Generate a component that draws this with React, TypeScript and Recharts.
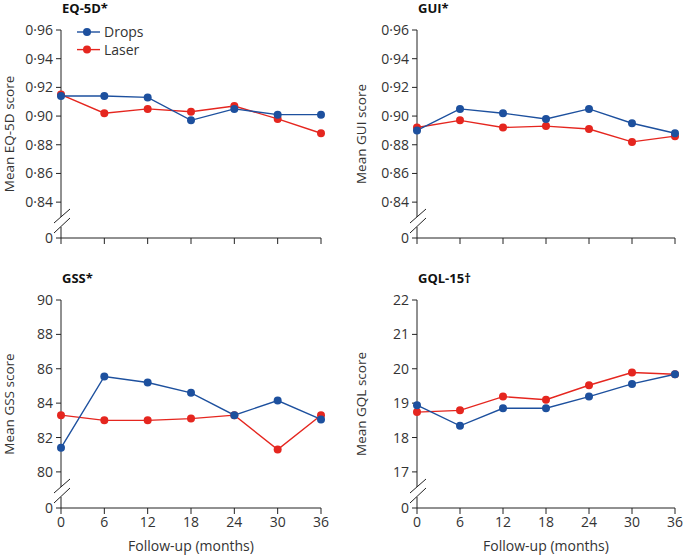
import React from 'react';
import { LineChart, Line, XAxis, YAxis, Legend } from 'recharts';

const months = [0, 6, 12, 18, 24, 30, 36];
const seriesNames = ['Drops', 'Laser'];

const eqDrops = [0.914, 0.914, 0.913, 0.897, 0.905, 0.901, 0.901];
const eqLaser = [0.915, 0.902, 0.905, 0.903, 0.907, 0.898, 0.888];
const guiDrops = [0.890, 0.905, 0.902, 0.898, 0.905, 0.895, 0.888];
const guiLaser = [0.892, 0.897, 0.892, 0.893, 0.891, 0.882, 0.886];
const gssDrops = [81.4, 85.55, 85.2, 84.6, 83.3, 84.15, 83.05];
const gssLaser = [83.3, 83.0, 83.0, 83.1, 83.3, 81.3, 83.3];
const gqlDrops = [18.94, 18.34, 18.85, 18.85, 19.19, 19.56, 19.84];
const gqlLaser = [18.74, 18.79, 19.19, 19.1, 19.52, 19.89, 19.84];

const utilityTicks = [0.84, 0.86, 0.88, 0.9, 0.92, 0.94, 0.96];
const gssTicks = [80, 82, 84, 86, 88, 90];
const gqlTicks = [17, 18, 19, 20, 21, 22];

const BLUE = '#1d509e';
const RED = '#e5261f';
const AXIS = '#222';
const TEXT = '#333';
const FONT = "'Open Sans', sans-serif";
const TICK_SIZE = 5;
const TICK_MARGIN = 3;
const FS = 14;

const fmtDec = (v: number) => v.toFixed(2).replace('.', '·');
const fmtInt = (v: number) => String(Math.round(v));

const makeYTick = (breakVal: number, fmt: (v: number) => string) => (props: any) => {
  const { x, y, payload } = props;
  const v = payload.value;
  const isBreak = Math.abs(v - breakVal) < 1e-9;
  const ax = x + TICK_SIZE + TICK_MARGIN;
  return (
    <g>
      <text x={x} y={y} dy={5} textAnchor="end" fontSize={FS} fill={TEXT} fontFamily={FONT}>
        {isBreak ? '0' : fmt(v)}
      </text>
      {isBreak && (
        <g>
          <rect x={ax - 2} y={y - 21} width={4} height={10} fill="#fff" />
          <line x1={ax - 7} y1={y - 15} x2={ax + 9} y2={y - 29} stroke={AXIS} strokeWidth={1} />
          <line x1={ax - 7} y1={y - 5} x2={ax + 9} y2={y - 20} stroke={AXIS} strokeWidth={1} />
        </g>
      )}
    </g>
  );
};

const XTick = (props: any) => {
  const { x, y, payload } = props;
  return (
    <text x={x} y={y} dy={11} textAnchor="middle" fontSize={FS} fill={TEXT} fontFamily={FONT}>
      {payload.value}
    </text>
  );
};
const NoTick = () => <g />;

const LegendContent = () => {
  const colors = [BLUE, RED];
  return (
    <svg width={110} height={50} style={{ display: 'block', overflow: 'visible' }}>
      {seriesNames.map((n, i) => {
        const cy = 12 + i * 17.6;
        return (
          <g key={n}>
            <line x1={1} x2={24} y1={cy} y2={cy} stroke={colors[i]} strokeWidth={1.4} />
            <circle cx={11} cy={cy} r={4} fill={colors[i]} />
            <text x={28} y={cy} dy={5} fontSize={FS} fill={TEXT} fontFamily={FONT}>{n}</text>
          </g>
        );
      })}
    </svg>
  );
};

type PanelProps = {
  left: number; top: number; width: number; height: number;
  yWidth: number; right: number; xHeight: number;
  title: string; yLabel: string; labelOffset: number;
  drops: number[]; laser: number[];
  ticks: number[]; breakVal: number; fmt: (v: number) => string;
  showX: boolean; legend?: boolean;
};

function Panel(p: PanelProps) {
  const data = months.map((m, i) => ({ month: m, Drops: p.drops[i], Laser: p.laser[i] }));
  const top = p.ticks[p.ticks.length - 1];
  const yTicks = [p.breakVal, ...p.ticks];
  return (
    <div style={{ position: 'absolute', left: p.left, top: p.top, width: p.width, height: p.height }}>
      <div style={{ position: 'absolute', left: p.yWidth + 1, top: 0, fontFamily: FONT, fontWeight: 700, fontSize: 13, color: '#111', lineHeight: '17px' }}>
        {p.title}
      </div>
      <LineChart width={p.width} height={p.height} data={data} margin={{ top: 30, right: p.right, left: 0, bottom: 0 }}>
        <XAxis
          dataKey="month" type="number" domain={[0, 36]} ticks={months} interval={0}
          height={p.xHeight} stroke={AXIS} tickSize={6} tickMargin={2}
          tick={p.showX ? XTick : NoTick}
          label={p.showX ? { value: 'Follow-up (months)', position: 'insideBottom', offset: 4, fontSize: FS, fill: TEXT, fontFamily: FONT } : undefined}
        />
        <YAxis
          type="number" domain={[p.breakVal, top]} ticks={yTicks} interval={0} allowDataOverflow
          width={p.yWidth} stroke={AXIS} tickSize={TICK_SIZE} tickMargin={TICK_MARGIN}
          tick={makeYTick(p.breakVal, p.fmt)}
          label={{ value: p.yLabel, angle: -90, position: 'insideLeft', offset: p.labelOffset, fontSize: 13.5, fill: TEXT, fontFamily: FONT, style: { textAnchor: 'middle' } }}
        />
        {p.legend && (
          <Legend layout="vertical" align="center" verticalAlign="middle" content={LegendContent}
            wrapperStyle={{ position: 'absolute', left: 76, top: 20, width: 110, height: 50 }} />
        )}
        <Line dataKey="Laser" stroke={RED} strokeWidth={1.4} dot={{ r: 4, fill: RED, stroke: RED, strokeWidth: 0 }} activeDot={false} isAnimationActive={false} />
        <Line dataKey="Drops" stroke={BLUE} strokeWidth={1.4} dot={{ r: 4, fill: BLUE, stroke: BLUE, strokeWidth: 0 }} activeDot={false} isAnimationActive={false} />
      </LineChart>
    </div>
  );
}

export default function App() {
  return (
    <div style={{ position: 'absolute', left: 0, top: 0, width: 683, height: 555, background: '#fff' }}>
      <Panel left={0} top={0} width={340} height={270} yWidth={61} right={19} xHeight={32}
        title="EQ-5D*" yLabel="Mean EQ-5D score" labelOffset={9}
        drops={eqDrops} laser={eqLaser} ticks={utilityTicks} breakVal={0.815} fmt={fmtDec} showX={false} legend />
      <Panel left={340} top={0} width={343} height={270} yWidth={77} right={8} xHeight={32}
        title="GUI*" yLabel="Mean GUI score" labelOffset={21}
        drops={guiDrops} laser={guiLaser} ticks={utilityTicks} breakVal={0.815} fmt={fmtDec} showX={false} />
      <Panel left={0} top={270} width={340} height={285} yWidth={61} right={19} xHeight={47}
        title="GSS*" yLabel="Mean GSS score" labelOffset={9}
        drops={gssDrops} laser={gssLaser} ticks={gssTicks} breakVal={77.9} fmt={fmtInt} showX />
      <Panel left={340} top={270} width={343} height={285} yWidth={77} right={8} xHeight={47}
        title="GQL-15†" yLabel="Mean GQL score" labelOffset={21}
        drops={gqlDrops} laser={gqlLaser} ticks={gqlTicks} breakVal={15.95} fmt={fmtInt} showX />
    </div>
  );
}
